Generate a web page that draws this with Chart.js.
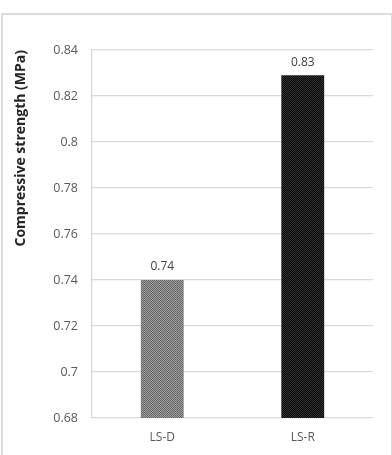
<!DOCTYPE html>
<html>
<head>
<meta charset="utf-8">
<script src="https://cdn.jsdelivr.net/npm/chart.js@4/dist/chart.umd.min.js"></script>
<style>
html,body{margin:0;padding:0;background:#fff;}
#frame{position:absolute;left:1px;top:13px;width:388px;height:460px;border:2px solid #dcdcdc;border-bottom:none;}
#wrap{position:absolute;left:0;top:0;width:392px;height:455px;}
</style>
</head>
<body>
<div id="frame"></div>
<div id="wrap"><canvas id="c" width="392" height="455"></canvas></div>
<script>
const categories = ["LS-D", "LS-R"];
const strengthValues = [0.74, 0.829];
const valueLabels = ["0.74", "0.83"];
const yTickValues = [0.68, 0.70, 0.72, 0.74, 0.76, 0.78, 0.80, 0.82, 0.84];
const yTickLabels = ["0.68", "0.7", "0.72", "0.74", "0.76", "0.78", "0.8", "0.82", "0.84"];
const yTitle = "Compressive strength (MPa)";

function makePattern(base, dot) {
  const p = document.createElement('canvas');
  p.width = 2; p.height = 2;
  const g = p.getContext('2d');
  g.fillStyle = base; g.fillRect(0, 0, 2, 2);
  g.fillStyle = dot; g.fillRect(0, 0, 1, 1); g.fillRect(1, 1, 1, 1);
  return g.createPattern(p, 'repeat');
}
const ctx = document.getElementById('c').getContext('2d');
const patterns = [makePattern('#9a9a9a', '#6a6a6a'), makePattern('#0c0c0c', '#2e2e2e')];

const valueLabelPlugin = {
  id: 'valueLabels',
  afterDatasetsDraw(chart) {
    const c = chart.ctx;
    const meta = chart.getDatasetMeta(0);
    c.save();
    c.font = '12px "Open Sans"';
    c.fillStyle = '#404040';
    c.textAlign = 'center';
    c.textBaseline = 'middle';
    meta.data.forEach((bar, i) => {
      c.fillText(valueLabels[i], bar.x, bar.y - 13);
    });
    c.restore();
  }
};

new Chart(ctx, {
  type: 'bar',
  data: {
    labels: categories,
    datasets: [{
      data: strengthValues,
      backgroundColor: patterns,
      borderWidth: 0,
      barPercentage: 0.305,
      categoryPercentage: 1.0
    }]
  },
  options: {
    responsive: false,
    animation: false,
    devicePixelRatio: 1,
    layout: { padding: { left: 0, top: 50, right: 19, bottom: 0 } },
    plugins: { legend: { display: false }, tooltip: { enabled: false } },
    scales: {
      x: {
        grid: { display: false, drawTicks: false },
        border: { display: false },
        ticks: { color: '#595959', font: { family: 'Open Sans', size: 12 }, padding: 12 },
        afterFit(s) { s.height = 37; }
      },
      y: {
        min: 0.68, max: 0.84,
        afterBuildTicks(s) { s.ticks = yTickValues.map(v => ({ value: v })); },
        ticks: {
          color: '#595959',
          font: { family: 'Open Sans', size: 12.5 },
          padding: 14,
          callback: (v) => yTickLabels[yTickValues.findIndex(t => Math.abs(t - v) < 1e-9)]
        },
        grid: { color: '#d9d9d9', lineWidth: 1.3, drawTicks: false },
        border: { display: true, color: '#d9d9d9', width: 1.3 },
        title: {
          display: true,
          text: yTitle,
          align: 'end',
          color: '#262626',
          font: { family: 'Open Sans', size: 14, weight: 'bold' },
          padding: { top: 13, bottom: 0 }
        },
        afterFit(s) { s.width = 92; }
      }
    }
  },
  plugins: [valueLabelPlugin]
});
</script>
</body>
</html>
